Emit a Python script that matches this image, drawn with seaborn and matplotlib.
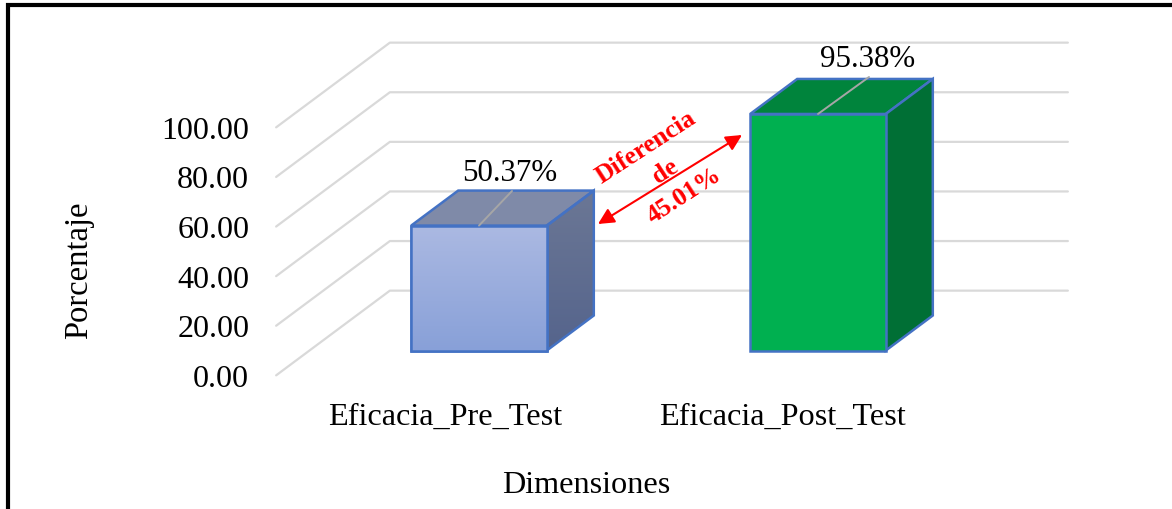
import matplotlib.pyplot as plt
import numpy as np
import pandas as pd
import seaborn as sns
from matplotlib.colors import to_rgb
from matplotlib.lines import Line2D
from matplotlib.patches import Polygon
from matplotlib.transforms import Affine2D

categories = ['Eficacia_Pre_Test', 'Eficacia_Post_Test']
values = [50.37, 95.38]
value_labels = ['50.37%', '95.38%']
y_ticks = [0, 20, 40, 60, 80, 100]

W, H = 1172, 510
X0, X_STEP = 479, 339      # pixel of first bar centre, pixels per category
Y0, Y_STEP = 351.5, 2.48   # pixel of value 0 on bar front, pixels per unit
DEPTH_X, DEPTH_Y = 47 / X_STEP, 35 / Y_STEP  # bar depth in data units
WALL_FRONT, WALL_BACK = -0.71, 1.71
BAR_W = 0.4
EDGE = '#4472C4'

sns.set_theme(style='white')
plt.rcParams['font.family'] = ['Liberation Serif', 'DejaVu Serif']

fig = plt.figure(figsize=(W / 100, H / 100), dpi=100)
ax = fig.add_axes([0, 0, 1, 1])
px = Affine2D().scale(1, -1).translate(0, H)  # picture pixels, y going down


def proj(x, v, d):
    return x + d * DEPTH_X, v + d * DEPTH_Y


def gradient(poly, top, bottom):
    pts = np.array(poly.get_xy())
    grad = np.linspace(to_rgb(top), to_rgb(bottom), 128)[:, None, :]
    im = ax.imshow(grad, aspect='auto', zorder=poly.get_zorder() - 0.1,
                   extent=(pts[:, 0].min(), pts[:, 0].max(), pts[:, 1].min(), pts[:, 1].max()))
    im.set_clip_path(poly)


def box_face(corners, face, zorder=3):
    p = Polygon(corners, closed=True, facecolor=face, edgecolor=EDGE, lw=1.8, zorder=zorder)
    ax.add_patch(p)
    return p


# gridlines on back wall and left wall
for v in y_ticks:
    a = proj(-0.5, v, WALL_FRONT)
    b = proj(-0.5, v, WALL_BACK)
    c = proj(1.5, v, WALL_BACK)
    ax.plot([a[0], b[0], c[0]], [a[1], b[1], c[1]], color='#D9D9D9', lw=1.6, zorder=1)

# front faces
df = pd.DataFrame({'categoria': categories, 'valor': values})
sns.barplot(data=df, x='categoria', y='valor', hue='categoria', order=categories, dodge=False,
            palette=['#98ABDD', '#00B050'], saturation=1, width=BAR_W, edgecolor=EDGE, linewidth=1.8,
            legend=False, zorder=4, ax=ax)

styles = [('#7F8AA8', '#6B7795', '#55648C'), ('#00843C', '#006F35', '#006F35')]
label_pos = [(510, 174), (868, 60)]
leader_end = [(512, 192), (869, 78)]
for i, (v, st) in enumerate(zip(values, styles)):
    l, r = i - BAR_W / 2, i + BAR_W / 2
    box_face([proj(l, v, 0), proj(r, v, 0), proj(r, v, 1), proj(l, v, 1)], st[0])
    side = box_face([proj(r, 0, 0), proj(r, v, 0), proj(r, v, 1), proj(r, 0, 1)], st[1])
    if st[1] != st[2]:
        side.set_facecolor('none')
        gradient(side, st[1], st[2])
    # leader line from bar to its label
    ex = (leader_end[i][0] - X0) / X_STEP
    ey = (Y0 - leader_end[i][1]) / Y_STEP
    ax.plot([i, ex], [v, ey], color='#A6A6A6', lw=1.4, zorder=5)
    ax.text(label_pos[i][0], label_pos[i][1], value_labels[i], transform=px, ha='center', va='center',
            fontsize=22.3, color='black', zorder=6)

# gradient on the first front face
pre_bar = ax.patches[0]
clip = Polygon(pre_bar.get_corners(), closed=True, facecolor='none', edgecolor=EDGE, lw=1.8, zorder=4.5)
ax.add_patch(clip)
gradient(clip, '#ABB9E2', '#88A0D8')

# tick labels, categories and axis titles
for v in y_ticks:
    tx, ty = proj(-0.5, v, WALL_FRONT)
    ax.text(tx - 27 / X_STEP, ty - 3 / Y_STEP, f'{v:.2f}', ha='right', va='center', fontsize=23, color='black')
for i, c in enumerate(categories):
    ax.text(i - (34 + i * 2) / X_STEP, (Y0 - 417) / Y_STEP, c, ha='center', va='center', fontsize=23.2, color='black')
ax.text(586, 486, 'Dimensiones', transform=px, ha='center', va='center', fontsize=23.2, color='black')
ax.text(79, 270, 'Porcentaje', transform=px, ha='center', va='center', rotation=90, fontsize=23.5, color='black')

# red note between the bars
ax.annotate('', xy=(598, 225), xytext=(742, 136), xycoords=px, textcoords=px,
            arrowprops=dict(arrowstyle='<|-|>', color='red', lw=1.5, mutation_scale=24, shrinkA=0, shrinkB=0))
for txt, x, y in [('Diferencia', 646, 147), ('de', 665, 172), ('45.01%', 684, 196)]:
    ax.text(x, y, txt, transform=px, ha='center', va='center', rotation=33, rotation_mode='anchor',
            fontsize=18.5, fontweight='bold', color='red', zorder=7)

ax.set_xlim((0 - X0) / X_STEP, (W - X0) / X_STEP)
ax.set_ylim((Y0 - H) / Y_STEP, Y0 / Y_STEP)
ax.axis('off')

# outer frame, only top and left show in the crop
fig.add_artist(Line2D([W, 8, 8], [6, 6, H], transform=px, color='black', lw=3, solid_joinstyle='miter'))

fig.savefig('out.png', dpi=100)
